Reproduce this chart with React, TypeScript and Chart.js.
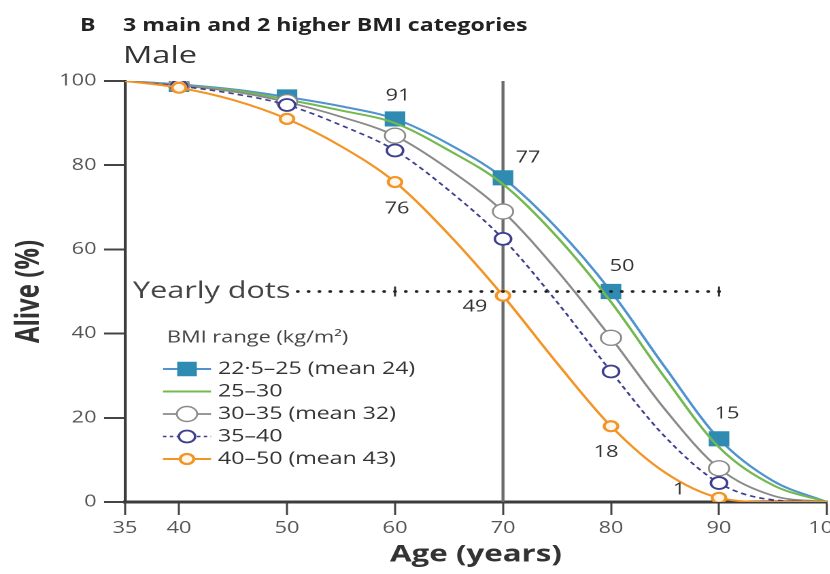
import { useEffect, useRef } from "react";
import { Chart, registerables } from "chart.js";

Chart.register(...registerables);

// ages, survival (% alive)
const ages = [35, 40, 45, 50, 55, 60, 65, 70, 75, 80, 85, 90, 95, 100];
const alive22to25 = [100, 99.2, 98, 96.2, 94, 91, 85, 77, 65, 50, 32, 15, 5, 0];
const alive25to30 = [100, 99, 97.8, 95.6, 93, 90, 83.5, 75.5, 63, 47.5, 29.5, 13, 4, 0];
const alive30to35 = [100, 99, 97.5, 95, 91.5, 87, 79, 69, 55, 39, 22, 8, 1.5, 0];
const alive35to40 = [100, 98.8, 97, 94.3, 89.5, 83.5, 74, 62.5, 47.5, 31, 15.5, 4.5, 0.5, 0];
const alive40to50 = [100, 98.4, 95.5, 91, 84.5, 76, 63.5, 49, 33, 18, 7, 1, 0, 0];

const seriesNames = [
  "22·5–25 (mean 24)",
  "25–30",
  "30–35 (mean 32)",
  "35–40",
  "40–50 (mean 43)",
];
const seriesValues = [alive22to25, alive25to30, alive30to35, alive35to40, alive40to50];

const markerAges = [40, 50, 60, 70, 80, 90];
const labelledAges = [60, 70, 80, 90];
const xTickValues = [35, 40, 50, 60, 70, 80, 90, 100];
const yearlyDotAges = [
  51, 52, 53, 54, 55, 56, 57, 58, 59, 60, 61, 62, 63, 64, 65, 66, 67, 68, 69, 70,
  71, 72, 73, 74, 75, 76, 77, 78, 79, 80, 81, 82, 83, 84, 85, 86, 87, 88, 89, 90,
];
const yearlyTickAges = [60, 90];
const yearlyDotLevel = 50;
const referenceAge = 70;

const FONT = "'Open Sans', 'DejaVu Sans', sans-serif";
// the source figure is stretched sideways; draw narrow and stretch the whole thing
const S = 1.36;
const W = 632;
const H = 574;

type MarkerStyle = {
  line: string;
  width: number;
  dash: number[];
  marker: "rect" | "circle" | null;
  radius: number;
  fill: string;
  border: string;
  borderWidth: number;
  order: number;
};

const seriesStyles: MarkerStyle[] = [
  { line: "#5093cf", width: 2, dash: [], marker: "rect", radius: 10, fill: "#2f8bb1", border: "#2f8bb1", borderWidth: 1, order: 5 },
  { line: "#74b94f", width: 2, dash: [], marker: null, radius: 0, fill: "#fff", border: "#74b94f", borderWidth: 1, order: 4 },
  { line: "#8a8a8a", width: 1.8, dash: [], marker: "circle", radius: 7.5, fill: "#ffffff", border: "#8a8a8a", borderWidth: 1.4, order: 3 },
  { line: "#3d3f8e", width: 1.6, dash: [4, 3], marker: "circle", radius: 6, fill: "#ffffff", border: "#3d3f8e", borderWidth: 1.8, order: 2 },
  { line: "#f29426", width: 2, dash: [], marker: "circle", radius: 5, fill: "#fff7ec", border: "#f29426", borderWidth: 2.2, order: 1 },
];

// value labels drawn for these series, with offsets in screen pixels per labelled age
const labelSeries = [0, 4];
const labelOffsets: Record<number, [number, number][]> = {
  0: [[3, -23], [25, -20], [11, -25], [8, -25]],
  4: [[2, 27], [-28, 11], [-5, 26], [-40, -8]],
};

function drawMarker(ctx: CanvasRenderingContext2D, s: MarkerStyle, x: number, y: number) {
  if (!s.marker) return;
  ctx.save();
  ctx.setLineDash([]);
  ctx.lineWidth = s.borderWidth;
  ctx.strokeStyle = s.border;
  ctx.fillStyle = s.fill;
  ctx.beginPath();
  if (s.marker === "rect") {
    const h = s.radius * Math.SQRT1_2;
    ctx.rect(x - h, y - h, 2 * h, 2 * h);
  } else {
    ctx.arc(x, y, s.radius, 0, Math.PI * 2);
  }
  ctx.fill();
  ctx.stroke();
  ctx.restore();
}

const annotations = {
  id: "annotations",
  beforeDatasetsDraw(chart: Chart) {
    const { ctx } = chart;
    const x = chart.scales.x;
    const y = chart.scales.y;
    ctx.save();
    ctx.strokeStyle = "#6c6c6c";
    ctx.lineWidth = 3 / S;
    ctx.beginPath();
    ctx.moveTo(x.getPixelForValue(referenceAge), y.getPixelForValue(100));
    ctx.lineTo(x.getPixelForValue(referenceAge), y.getPixelForValue(0));
    ctx.stroke();

    ctx.fillStyle = "#444";
    ctx.font = `22.5px ${FONT}`;
    ctx.textAlign = "left";
    ctx.textBaseline = "middle";
    ctx.fillText("Yearly dots", 133 / S, y.getPixelForValue(yearlyDotLevel));
    ctx.restore();
  },
  afterDatasetsDraw(chart: Chart) {
    const { ctx } = chart;
    const x = chart.scales.x;
    const y = chart.scales.y;
    ctx.save();
    ctx.fillStyle = "#333";
    ctx.font = `16px ${FONT}`;
    ctx.textAlign = "center";
    ctx.textBaseline = "middle";
    labelSeries.forEach((si) => {
      labelledAges.forEach((age, k) => {
        const v = seriesValues[si][ages.indexOf(age)];
        const [dx, dy] = labelOffsets[si][k];
        ctx.fillText(String(Math.round(v)), x.getPixelForValue(age) + dx / S, y.getPixelForValue(v) + dy);
      });
    });

    // legend
    const lx = 163 / S;
    const len = 48 / S;
    const tx = 218 / S;
    ctx.textAlign = "left";
    ctx.fillStyle = "#444";
    ctx.font = `16px ${FONT}`;
    ctx.fillText("BMI range (kg/m²)", 167 / S, 338);
    ctx.fillStyle = "#333";
    ctx.font = `17px ${FONT}`;
    seriesNames.forEach((name, i) => {
      const s = seriesStyles[i];
      const iy = 369 + i * 22.5;
      ctx.save();
      ctx.strokeStyle = s.line;
      ctx.lineWidth = s.width;
      ctx.setLineDash(s.dash.length ? [2.5, 2.5] : []);
      ctx.beginPath();
      ctx.moveTo(lx, iy);
      ctx.lineTo(lx + len, iy);
      ctx.stroke();
      ctx.restore();
      drawMarker(ctx, { ...s, radius: s.marker === "rect" ? 9.5 : s.radius }, lx + len / 2, iy);
      ctx.fillText(name, tx, iy);
    });
    ctx.restore();
  },
};

export default function App() {
  const canvasRef = useRef<HTMLCanvasElement>(null);
  const chartRef = useRef<Chart | null>(null);

  useEffect(() => {
    if (!canvasRef.current) return;
    if (chartRef.current) chartRef.current.destroy();

    Chart.defaults.font.family = FONT;

    const curveSets = seriesValues.map((vals, i) => {
      const s = seriesStyles[i];
      return {
        label: seriesNames[i],
        data: ages.map((a, k) => ({ x: a, y: vals[k] })),
        borderColor: s.line,
        borderWidth: s.width,
        borderDash: s.dash,
        cubicInterpolationMode: "monotone" as const,
        fill: false,
        order: s.order,
        pointStyle: s.marker === "rect" ? "rect" : "circle",
        pointRadius: (c: any) => (s.marker && markerAges.includes(ages[c.dataIndex]) ? s.radius : 0),
        pointBackgroundColor: s.fill,
        pointBorderColor: s.border,
        pointBorderWidth: s.borderWidth,
      };
    });

    chartRef.current = new Chart(canvasRef.current, {
      type: "line",
      data: {
        datasets: [
          ...curveSets,
          {
            label: "Yearly dots",
            data: yearlyDotAges.map((a) => ({ x: a, y: yearlyDotLevel })),
            showLine: false,
            pointRadius: 1.4,
            pointBackgroundColor: "#222",
            pointBorderWidth: 0,
            order: 0,
          },
          {
            label: "Decade ticks",
            data: yearlyTickAges.map((a) => ({ x: a, y: yearlyDotLevel })),
            showLine: false,
            pointStyle: "line",
            rotation: 90,
            pointRadius: 5,
            pointBorderColor: "#333",
            pointBorderWidth: 1.5,
            order: 0,
          },
        ] as any,
      },
      options: {
        responsive: false,
        animation: false,
        devicePixelRatio: 2,
        layout: { padding: { top: 81, right: W - 827 / S, bottom: 0, left: 0 } },
        plugins: {
          legend: { display: false },
          tooltip: { enabled: false },
        },
        scales: {
          x: {
            type: "linear",
            min: 35,
            max: 100,
            afterBuildTicks: (scale: any) => {
              scale.ticks = xTickValues.map((v) => ({ value: v }));
            },
            afterFit: (scale: any) => {
              scale.height = 72;
            },
            grid: { drawOnChartArea: false, tickLength: 13, tickColor: "#444", tickWidth: 1.5 },
            border: { color: "#3c3c3c", width: 3 },
            ticks: { color: "#555", font: { size: 16 }, padding: 4, autoSkip: false, maxRotation: 0 },
            title: {
              display: true,
              text: "Age (years)",
              color: "#333",
              font: { size: 23, weight: "bold" },
              padding: { top: 0, bottom: 5 },
            },
          },
          y: {
            min: 0,
            max: 100,
            afterFit: (scale: any) => {
              scale.width = 125 / S;
            },
            grid: { drawOnChartArea: false, tickLength: 21 / S, tickColor: "#444", tickWidth: 2 },
            border: { color: "#3c3c3c", width: 3 / S },
            ticks: { stepSize: 20, color: "#555", font: { size: 16 }, padding: 5.5 },
            title: {
              display: true,
              text: "Alive (%)",
              color: "#333",
              font: { size: 24, weight: "bold" },
              padding: { top: 7.5, bottom: 0 },
            },
          },
        },
      },
      plugins: [annotations],
    });

    return () => {
      if (chartRef.current) {
        chartRef.current.destroy();
        chartRef.current = null;
      }
    };
  }, []);

  return (
    <div
      style={{
        position: "fixed",
        left: 0,
        top: 0,
        width: 830,
        height: 574,
        overflow: "hidden",
        background: "#fff",
        fontFamily: FONT,
      }}
    >
      <div
        style={{
          position: "absolute",
          left: 0,
          top: 0,
          width: W,
          height: H,
          transform: `scaleX(${S})`,
          transformOrigin: "0 0",
        }}
      >
        <canvas ref={canvasRef} width={W} height={H} style={{ position: "absolute", left: 0, top: 0 }} />
        <div style={{ position: "absolute", left: 80 / S, top: 13, fontSize: 17, fontWeight: 700, color: "#222" }}>B</div>
        <div style={{ position: "absolute", left: 123 / S, top: 13, fontSize: 17, fontWeight: 700, color: "#222", whiteSpace: "nowrap" }}>
          3 main and 2 higher BMI categories
        </div>
        <div style={{ position: "absolute", left: 123 / S, top: 37, fontSize: 24, color: "#333" }}>Male</div>
      </div>
    </div>
  );
}
